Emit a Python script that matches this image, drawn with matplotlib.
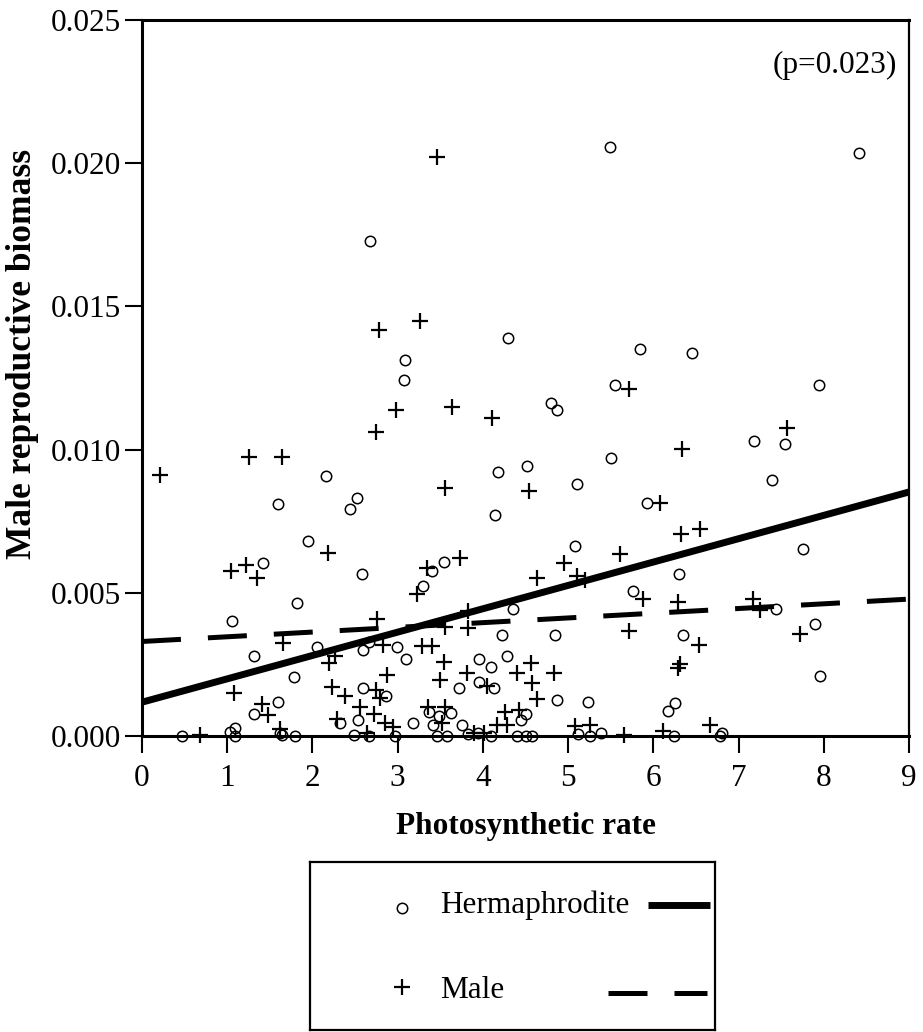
import numpy as np
import matplotlib.pyplot as plt

plt.rcParams['font.family'] = ['Liberation Serif', 'DejaVu Serif']

# Hermaphrodite points (photosynthetic rate, male reproductive biomass)
herm_x = [5.49, 8.41, 2.68, 4.29, 3.09, 3.07, 5.84, 6.45, 7.94, 5.55,
          4.80, 4.87, 7.55, 7.18, 4.52, 4.18, 2.16, 5.50, 5.10, 7.39,
          1.59, 2.52, 2.44, 4.14, 5.92, 1.95, 7.76, 5.08, 1.42, 3.54,
          3.40, 2.58, 6.30, 3.30, 5.76, 1.82, 4.35, 7.44, 1.06, 7.90,
          4.23, 4.85, 6.35, 2.05, 2.99, 2.59, 2.66, 1.31, 3.10, 3.95,
          4.10, 4.28, 7.96, 1.78, 3.95, 3.72, 4.13, 2.59, 2.86, 1.60,
          4.87, 5.23, 6.26, 6.17, 3.37, 3.49, 3.63, 1.31, 4.50, 4.45,
          2.54, 3.18, 2.32, 3.41, 3.75, 1.09, 1.03, 1.62, 2.49, 2.66,
          0.47, 1.09, 1.80, 2.97, 3.46, 3.58, 3.83, 3.94, 4.10, 4.40,
          4.50, 4.58, 5.12, 5.26, 5.39, 6.24, 6.81, 6.78, 1.64]
herm_y = [0.02058, 0.02035, 0.01727, 0.01390, 0.01314, 0.01242, 0.01352, 0.01337, 0.01227, 0.01227,
          0.01161, 0.01140, 0.01021, 0.01029, 0.00942, 0.00921, 0.00909, 0.00971, 0.00881, 0.00895,
          0.00810, 0.00831, 0.00793, 0.00773, 0.00814, 0.00682, 0.00653, 0.00664, 0.00604, 0.00606,
          0.00575, 0.00566, 0.00565, 0.00524, 0.00505, 0.00463, 0.00444, 0.00443, 0.00403, 0.00392,
          0.00353, 0.00352, 0.00353, 0.00310, 0.00310, 0.00302, 0.00328, 0.00280, 0.00269, 0.00270,
          0.00241, 0.00280, 0.00208, 0.00207, 0.00188, 0.00167, 0.00167, 0.00168, 0.00140, 0.00117,
          0.00126, 0.00117, 0.00116, 0.00086, 0.00085, 0.00070, 0.00082, 0.00077, 0.00078, 0.00056,
          0.00056, 0.00044, 0.00044, 0.00038, 0.00038, 0.00027, 0.00015, 0.00010, 0.00002, 0.00000,
          0.00000, 0.00000, 0.00000, 0.00000, 0.00000, 0.00000, 0.00007, 0.00009, 0.00000, 0.00000,
          0.00000, 0.00000, 0.00007, 0.00000, 0.00009, 0.00000, 0.00009, 0.00000, 0.00003]

# Male points
male_x = [3.46, 2.78, 3.26, 5.72, 2.98, 3.64, 4.11, 7.57, 2.75, 6.34,
          1.26, 1.64, 0.21, 3.56, 4.54, 6.08, 6.33, 6.55, 2.18, 5.61,
          3.73, 4.95, 1.22, 1.05, 3.34, 1.35, 4.63, 5.10, 5.20, 3.23,
          5.88, 6.29, 7.17, 7.25, 3.82, 2.76, 3.56, 3.83, 5.71, 7.72,
          1.66, 2.83, 6.54, 3.28, 3.40, 2.26, 3.54, 4.56, 6.31, 2.20,
          6.29, 3.81, 4.40, 4.83, 2.87, 3.50, 4.58, 4.05, 2.23, 2.74,
          1.08, 2.38, 2.79, 4.63, 1.41, 2.56, 3.36, 3.56, 4.26, 4.42,
          2.72, 1.48, 2.29, 3.52, 2.85, 4.16, 4.28, 5.08, 5.26, 6.66,
          2.95, 1.62, 6.11, 2.64, 3.89, 4.01, 0.68, 5.65]
male_y = [0.02021, 0.01416, 0.01450, 0.01210, 0.01140, 0.01149, 0.01111, 0.01076, 0.01061, 0.01003,
          0.00974, 0.00974, 0.00913, 0.00866, 0.00856, 0.00814, 0.00706, 0.00723, 0.00639, 0.00636,
          0.00623, 0.00605, 0.00598, 0.00575, 0.00586, 0.00553, 0.00553, 0.00557, 0.00545, 0.00497,
          0.00477, 0.00468, 0.00477, 0.00441, 0.00435, 0.00407, 0.00382, 0.00376, 0.00365, 0.00357,
          0.00324, 0.00316, 0.00316, 0.00315, 0.00315, 0.00280, 0.00260, 0.00254, 0.00253, 0.00254,
          0.00238, 0.00220, 0.00220, 0.00220, 0.00213, 0.00196, 0.00186, 0.00175, 0.00172, 0.00161,
          0.00149, 0.00140, 0.00132, 0.00130, 0.00112, 0.00103, 0.00103, 0.00103, 0.00085, 0.00091,
          0.00078, 0.00073, 0.00060, 0.00044, 0.00044, 0.00038, 0.00038, 0.00035, 0.00038, 0.00038,
          0.00030, 0.00025, 0.00018, 0.00010, 0.00009, 0.00009, 0.00003, 0.00005]

# regression lines read at x=0 and x=9
fit_x = [0, 9]
herm_fit = [0.00118, 0.00852]
male_fit = [0.00330, 0.00478]

xticks = list(range(10))
yticks = [0.000, 0.005, 0.010, 0.015, 0.020, 0.025]
ytick_labels = ['0.000', '0.005', '0.010', '0.015', '0.020', '0.025']
p_text = '(p=0.023)'
legend_labels = ['Hermaphrodite', 'Male']

dash = (7.8, 5.4)

fig = plt.figure(figsize=(9.23, 10.32), dpi=100)
ax = fig.add_axes([142/923, 1 - 736/1032, 767/923, 716/1032])

ax.plot(herm_x, herm_y, 'o', ms=7.5, mfc='none', mec='black', mew=1.1, clip_on=False)
ax.plot(male_x, male_y, '+', ms=12, mec='black', mew=1.6, clip_on=False)

ax.plot(fit_x, herm_fit, '-', color='black', lw=5.0, solid_capstyle='butt')
ax.plot(fit_x, male_fit, color='black', lw=3.6, dashes=dash, dash_capstyle='butt')

ax.set_xlim(0, 9)
ax.set_ylim(0, 0.025)
ax.set_xticks(xticks)
ax.set_yticks(yticks)
ax.set_yticklabels(ytick_labels)
ax.tick_params(axis='both', direction='out', length=12, width=1.5, labelsize=22.5)
ax.tick_params(axis='x', pad=8)
ax.tick_params(axis='y', pad=3)
for s in ax.spines.values():
    s.set_linewidth(2.2)
ax.spines['right'].set_linewidth(1.6)

ax.set_xlabel('Photosynthetic rate', fontsize=22.5, fontweight='bold', labelpad=14)
# y label placed by hand, slightly above the axis centre like the original
ax.text(-0.156, 0.533, 'Male reproductive biomass', transform=ax.transAxes,
        rotation=90, ha='center', va='center', fontsize=25.5, fontweight='bold')

ax.text(0.984, 0.936, p_text, transform=ax.transAxes, ha='right', va='center', fontsize=22.5)

# legend box drawn below the plot
lg = fig.add_axes([310/923, 2/1032, 405/923, 168/1032])
lg.set_xlim(0, 405)
lg.set_ylim(168, 0)
lg.set_xticks([])
lg.set_yticks([])
for s in lg.spines.values():
    s.set_linewidth(1.6)
lg.plot([92], [46], 'o', ms=7.5, mfc='none', mec='black', mew=1.1)
lg.text(130, 43, legend_labels[0], fontsize=22.5, va='center')
lg.plot([338, 400], [43, 43], '-', color='black', lw=5.0, solid_capstyle='butt')
lg.plot([92], [125], '+', ms=12, mec='black', mew=1.6)
lg.text(130, 128, legend_labels[1], fontsize=22.5, va='center')
lg.plot([298, 397], [131, 131], color='black', lw=3.6, dashes=dash, dash_capstyle='butt')

fig.savefig('out.png', dpi=100)
